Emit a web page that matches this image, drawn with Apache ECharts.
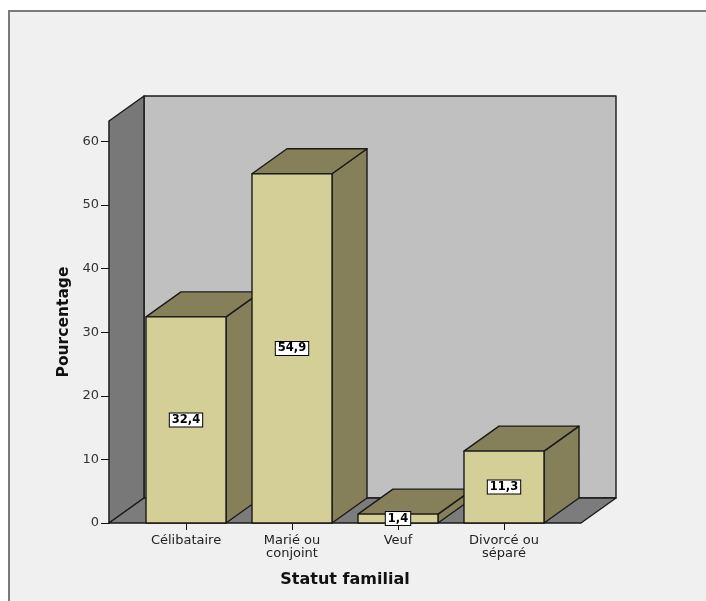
<!DOCTYPE html>
<html>
<head>
<meta charset="utf-8">
<script src="https://cdn.jsdelivr.net/npm/echarts@6/dist/echarts.min.js"></script>
<style>
  html, body { margin: 0; padding: 0; background: #ffffff; }
  #chart { width: 706px; height: 601px; }
</style>
</head>
<body>
<div id="chart"></div>
<script>
// Statut familial — pourcentages
const categories = ['Célibataire', 'Marié ou\nconjoint', 'Veuf', 'Divorcé ou\nséparé'];
const percentages = [32.4, 54.9, 1.4, 11.3];
const yTicks = [0, 10, 20, 30, 40, 50, 60];
const yTop = 63.2;            // height of the 3D walls in axis units

// 3D projection and styling
const DEPTH_X = 35, DEPTH_Y = -25;
const AXIS_OFFSET = 24;
const BAR_RATIO = 0.755;
const FRONT = '#d3cf97', SHADE = '#858059', EDGE = '#1a1a1a';
const WALL_BACK = '#c0c0c0', WALL_SIDE = '#787878', FLOOR = '#7c7c7c';

const fmt = v => String(v).replace('.', ',');

const chart = echarts.init(document.getElementById('chart'), null, { renderer: 'canvas' });

function renderWalls(params, api) {
  const cs = params.coordSys;
  const y0 = api.coord([0, 0])[1];
  const yT = api.coord([0, yTop])[1];
  const xl = cs.x - AXIS_OFFSET;
  const xr = cs.x + cs.width + AXIS_OFFSET;
  const st = { stroke: EDGE, lineWidth: 1.4, lineJoin: 'round' };
  return {
    type: 'group',
    children: [
      { type: 'rect', shape: { x: xl + DEPTH_X, y: yT + DEPTH_Y, width: xr - xl, height: y0 - yT },
        style: Object.assign({ fill: WALL_BACK }, st) },
      { type: 'polygon', shape: { points: [[xl, yT], [xl + DEPTH_X, yT + DEPTH_Y], [xl + DEPTH_X, y0 + DEPTH_Y], [xl, y0]] },
        style: Object.assign({ fill: WALL_SIDE }, st) },
      { type: 'polygon', shape: { points: [[xl, y0], [xl + DEPTH_X, y0 + DEPTH_Y], [xr + DEPTH_X, y0 + DEPTH_Y], [xr, y0]] },
        style: Object.assign({ fill: FLOOR }, st) }
    ]
  };
}

function renderBar(params, api) {
  const idx = api.value(0), v = api.value(1);
  const base = api.coord([idx, 0]);
  const top = api.coord([idx, v]);
  const bw = api.size([1, 0])[0] * BAR_RATIO;
  const l = base[0] - bw / 2, r = base[0] + bw / 2;
  const y0 = base[1], y1 = top[1];
  const st = { stroke: EDGE, lineWidth: 1.4, lineJoin: 'round' };
  return {
    type: 'group',
    children: [
      { type: 'polygon', shape: { points: [[r, y1], [r + DEPTH_X, y1 + DEPTH_Y], [r + DEPTH_X, y0 + DEPTH_Y], [r, y0]] },
        style: Object.assign({ fill: SHADE }, st) },
      { type: 'polygon', shape: { points: [[l, y1], [l + DEPTH_X, y1 + DEPTH_Y], [r + DEPTH_X, y1 + DEPTH_Y], [r, y1]] },
        style: Object.assign({ fill: SHADE }, st) },
      { type: 'rect', shape: { x: l, y: y1, width: bw, height: y0 - y1 },
        style: Object.assign({ fill: FRONT }, st) },
      { type: 'text', x: base[0], y: (y0 + y1) / 2, z2: 10,
        style: {
          text: fmt(v), fill: '#000', font: 'bold 11.5px "DejaVu Sans"',
          align: 'center', verticalAlign: 'middle',
          backgroundColor: '#ffffff', borderColor: '#000', borderWidth: 1,
          padding: [1, 2, 0, 2]
        } }
    ]
  };
}

chart.setOption({
  backgroundColor: '#ffffff',
  animation: false,
  graphic: [{
    type: 'rect', z: -10, silent: true,
    shape: { x: 9, y: 11, width: 760, height: 660 },
    style: { fill: '#f0f0f0', stroke: '#7a7a7a', lineWidth: 2 }
  }],
  grid: { left: 133, right: 149, top: 121, bottom: 78 },
  xAxis: {
    type: 'category',
    data: categories,
    name: 'Statut familial',
    nameLocation: 'middle',
    nameGap: 49,
    nameTextStyle: { fontFamily: 'DejaVu Sans', fontWeight: 'bold', fontSize: 16, color: '#111' },
    axisLine: { show: false },
    axisTick: { show: true, alignWithLabel: true, length: 7, lineStyle: { color: '#111', width: 1 } },
    axisLabel: { fontFamily: 'DejaVu Sans', fontSize: 13, color: '#222', lineHeight: 13, margin: 11, interval: 0 },
    splitLine: { show: false }
  },
  yAxis: {
    type: 'value',
    min: 0, max: yTop, interval: 10,
    offset: AXIS_OFFSET,
    name: 'Pourcentage',
    nameLocation: 'middle',
    nameGap: 36,
    nameTextStyle: { fontFamily: 'DejaVu Sans', fontWeight: 'bold', fontSize: 15.5, color: '#111' },
    axisLine: { show: true, lineStyle: { color: '#111', width: 1.4 } },
    axisTick: { show: true, length: 8, customValues: yTicks, lineStyle: { color: '#111' } },
    axisLabel: { fontFamily: 'DejaVu Sans', fontSize: 13, color: '#333', margin: 10, customValues: yTicks },
    splitLine: { show: false }
  },
  series: [
    { type: 'custom', renderItem: renderWalls, data: [[0, 0]], silent: true, z: 1 },
    { type: 'custom', renderItem: renderBar, data: percentages.map((v, i) => [i, v]), z: 3 }
  ]
});
</script>
</body>
</html>
